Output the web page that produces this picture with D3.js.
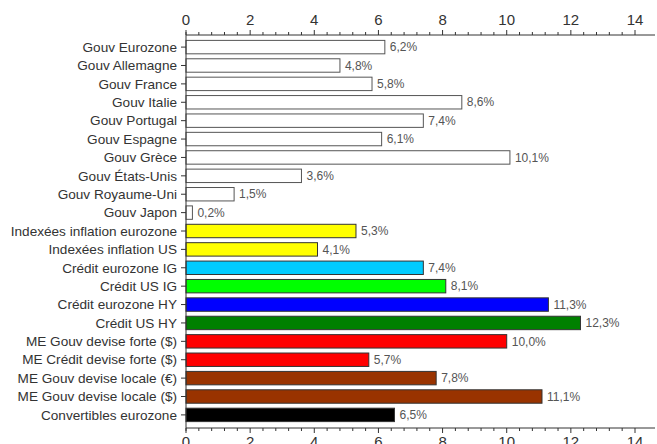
<!DOCTYPE html>
<html>
<head>
<meta charset="utf-8">
<script src="https://cdn.jsdelivr.net/npm/d3@7"></script>
<style>
  body { margin: 0; background: #fff; }
  text { font-family: "Liberation Sans", Arial, sans-serif; }
</style>
</head>
<body>
<div id="chart"></div>
<script>
const categories = [
  'Gouv Eurozone', 'Gouv Allemagne', 'Gouv France', 'Gouv Italie', 'Gouv Portugal',
  'Gouv Espagne', 'Gouv Grèce', 'Gouv États-Unis', 'Gouv Royaume-Uni', 'Gouv Japon',
  'Indexées inflation eurozone', 'Indexées inflation US', 'Crédit eurozone IG', 'Crédit US IG',
  'Crédit eurozone HY', 'Crédit US HY', 'ME Gouv devise forte ($)', 'ME Crédit devise forte ($)',
  'ME Gouv devise locale (€)', 'ME Gouv devise locale ($)', 'Convertibles eurozone'
];
const values = [6.2, 4.8, 5.8, 8.6, 7.4, 6.1, 10.1, 3.6, 1.5, 0.2, 5.3, 4.1, 7.4, 8.1, 11.3, 12.3, 10.0, 5.7, 7.8, 11.1, 6.5];
const colors = [
  '#fff', '#fff', '#fff', '#fff', '#fff', '#fff', '#fff', '#fff', '#fff', '#fff',
  '#ffff00', '#ffff00', '#00ccff', '#00ff00', '#0000ff', '#008000',
  '#ff0000', '#ff0000', '#993300', '#993300', '#000000'
];
const xTicks = [0, 2, 4, 6, 8, 10, 12, 14];

const width = 657, height = 444;
const mLeft = 186, mRight = 635, mTop = 35, mBottom = 428;

const svg = d3.select('#chart').append('svg')
  .attr('width', width)
  .attr('height', height);

const x = d3.scaleLinear().domain([0, 14]).range([mLeft, mRight]);
const y = d3.scaleBand().domain(categories).range([mTop + 3, mBottom - 4]).paddingInner(0.27).paddingOuter(0.13);

const data = categories.map((c, i) => ({ name: c, value: values[i], color: colors[i] }));

svg.selectAll('rect.bar').data(data)
  .enter().append('rect')
    .attr('class', 'bar')
    .attr('x', x(0))
    .attr('y', d => y(d.name))
    .attr('width', d => x(d.value) - x(0))
    .attr('height', y.bandwidth())
    .attr('fill', d => d.color)
    .attr('stroke', d => d.color === '#fff' ? '#555' : '#333')
    .attr('stroke-width', 1);

svg.selectAll('text.val').data(data)
  .enter().append('text')
    .attr('class', 'val')
    .attr('x', d => x(d.value) + 5)
    .attr('y', d => y(d.name) + y.bandwidth() / 2)
    .attr('dy', '0.35em')
    .attr('font-size', 12)
    .attr('fill', '#555')
    .text(d => d3.format('.1f')(d.value).replace('.', ',') + '%');

const minor = d3.range(0, 14.01, 0.4).filter(v => Math.abs(v / 2 - Math.round(v / 2)) > 0.01);

function drawX(g, y0, dir) {
  g.append('line')
    .attr('x1', mLeft).attr('x2', mRight + 20)
    .attr('y1', y0).attr('y2', y0)
    .attr('stroke', '#333');
  g.selectAll('line.major').data(xTicks).enter().append('line')
    .attr('x1', d => x(d)).attr('x2', d => x(d))
    .attr('y1', y0).attr('y2', y0 + dir * 5)
    .attr('stroke', '#333');
  g.selectAll('line.minor').data(minor).enter().append('line')
    .attr('x1', d => x(d)).attr('x2', d => x(d))
    .attr('y1', y0).attr('y2', y0 + dir * 3)
    .attr('stroke', '#333');
  g.selectAll('text').data(xTicks).enter().append('text')
    .attr('x', d => x(d))
    .attr('y', dir < 0 ? y0 - 10 : y0 + 19)
    .attr('text-anchor', 'middle')
    .attr('font-size', 15)
    .attr('fill', '#333')
    .text(d => d);
}

drawX(svg.append('g'), mTop, -1);
drawX(svg.append('g'), mBottom, 1);

const yAxis = svg.append('g');
yAxis.append('line')
  .attr('x1', mLeft).attr('x2', mLeft)
  .attr('y1', mTop - 3).attr('y2', mBottom + 3)
  .attr('stroke', '#333');
yAxis.selectAll('line.tick').data(categories).enter().append('line')
  .attr('x1', mLeft - 5).attr('x2', mLeft)
  .attr('y1', d => y(d) + y.bandwidth() / 2)
  .attr('y2', d => y(d) + y.bandwidth() / 2)
  .attr('stroke', '#333');
yAxis.selectAll('text').data(categories).enter().append('text')
  .attr('x', mLeft - 9)
  .attr('y', d => y(d) + y.bandwidth() / 2)
  .attr('dy', '0.35em')
  .attr('text-anchor', 'end')
  .attr('font-size', 13.6)
  .attr('fill', '#333')
  .text(d => d);
</script>
</body>
</html>
